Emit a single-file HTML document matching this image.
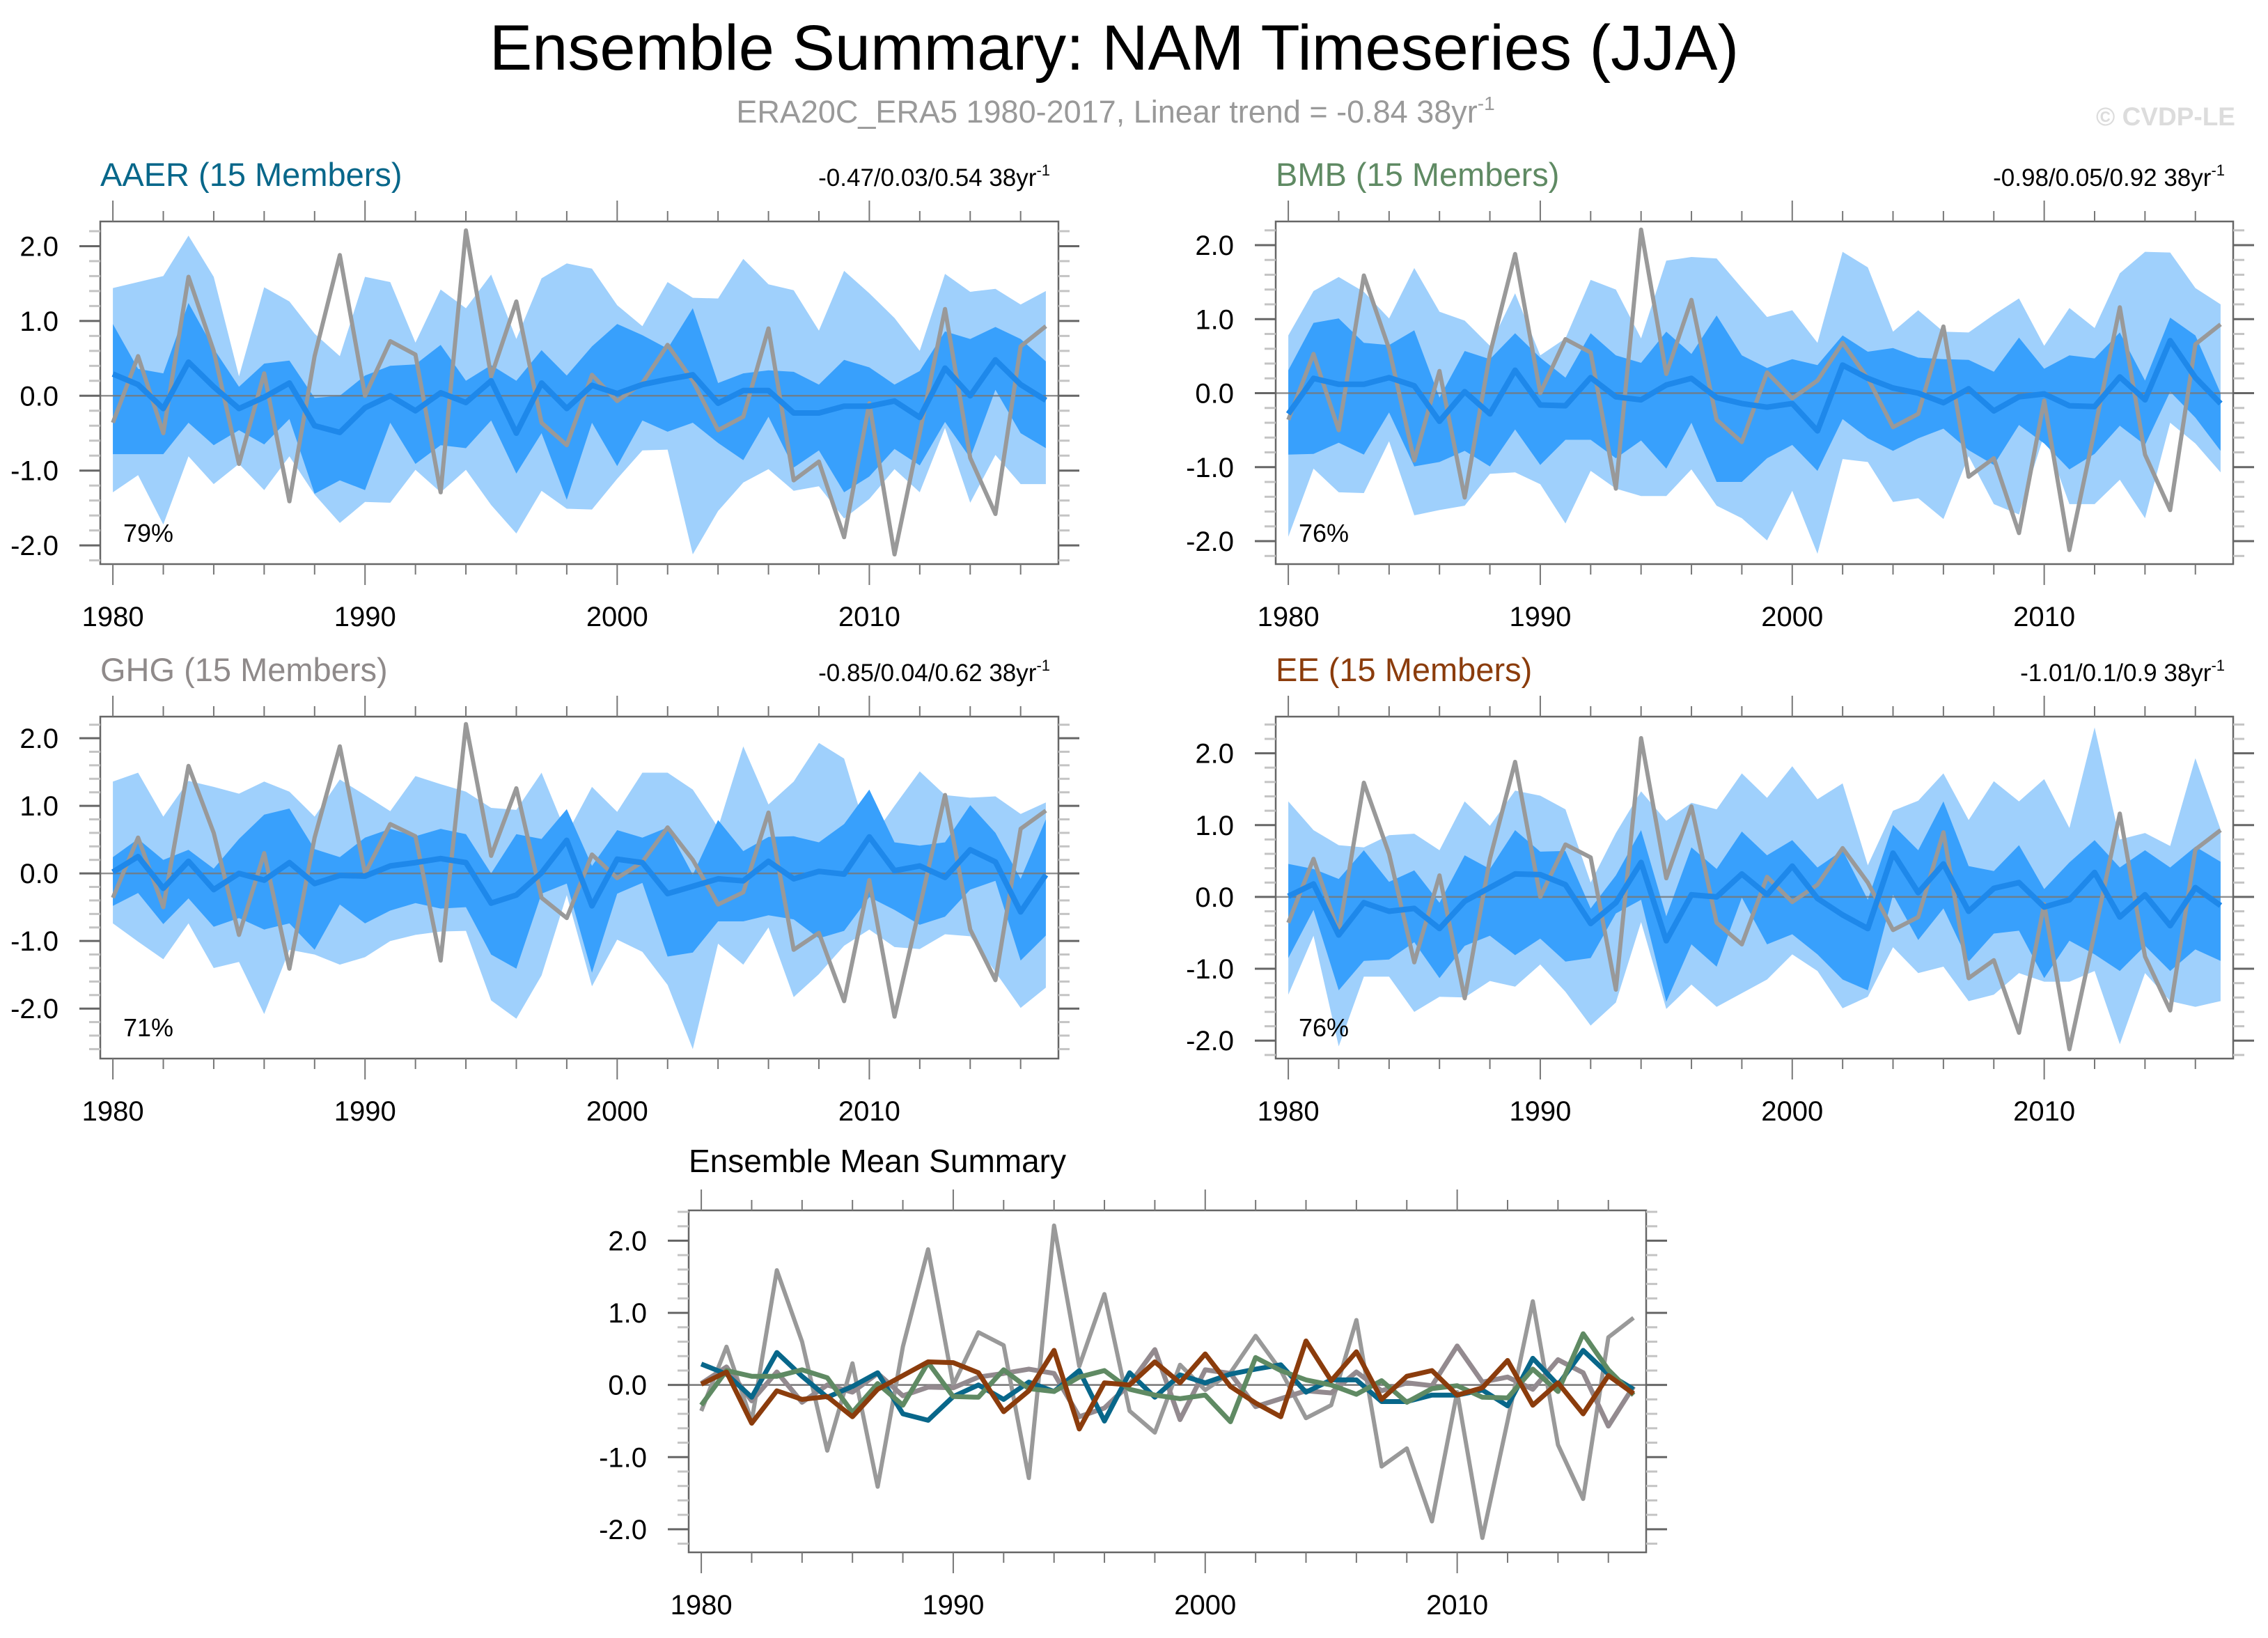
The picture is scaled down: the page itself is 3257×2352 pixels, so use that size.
<!DOCTYPE html>
<html><head><meta charset="utf-8"><title>Ensemble Summary: NAM Timeseries (JJA)</title>
<style>
html,body{margin:0;padding:0;background:#fff;}
svg{display:block;font-family:"Liberation Sans",Arial,sans-serif;}
</style></head>
<body>
<svg id="chart" xmlns="http://www.w3.org/2000/svg" width="3257" height="2352" viewBox="0 0 3257 2352">
<rect x="0" y="0" width="3257" height="2352" fill="#fff"/>
<text x="1600" y="100" font-size="92" text-anchor="middle" fill="#000">Ensemble Summary: NAM Timeseries (JJA)</text>
<text x="1602" y="176" font-size="45" text-anchor="middle" fill="#999">ERA20C_ERA5 1980-2017, Linear trend = -0.84 38yr<tspan dy="-18" font-size="28">-1</tspan></text>
<text x="3210" y="180" font-size="37" font-weight="bold" text-anchor="end" fill="#dcdcdc">© CVDP-LE</text>
<g id="panels"></g>
</svg>
<script>
const years = [1980,1981,1982,1983,1984,1985,1986,1987,1988,1989,1990,1991,1992,1993,1994,1995,1996,1997,1998,1999,2000,2001,2002,2003,2004,2005,2006,2007,2008,2009,2010,2011,2012,2013,2014,2015,2016,2017];
const xTicks = [1980,1990,2000,2010];
const yTicks = [2,1,0,-1,-2];
const yTickLabels = ["2.0","1.0","0.0","-1.0","-2.0"];
const obs = [-0.36,0.53,-0.5,1.59,0.6,-0.91,0.3,-1.41,0.53,1.88,0,0.73,0.55,-1.29,2.21,0.26,1.26,-0.36,-0.66,0.28,-0.07,0.17,0.68,0.2,-0.46,-0.28,0.9,-1.13,-0.88,-1.89,-0.1,-2.12,-0.5,1.16,-0.83,-1.58,0.66,0.93];

const aaerMean = [0.29,0.15,-0.17,0.45,0.12,-0.17,-0.02,0.17,-0.4,-0.49,-0.16,0,-0.2,0.04,-0.09,0.2,-0.5,0.17,-0.17,0.14,0.03,0.15,0.22,0.28,-0.1,0.07,0.07,-0.23,-0.23,-0.14,-0.14,-0.07,-0.29,0.37,0,0.48,0.15,-0.06];
const aaerDarkHi = [0.96,0.36,0.3,1.24,0.63,0.12,0.43,0.47,-0.03,0,0.27,0.4,0.42,0.68,0.2,0.41,0.2,0.61,0.27,0.66,0.96,0.81,0.63,1.17,0.17,0.3,0.34,0.32,0.15,0.48,0.38,0.15,0.33,0.86,0.76,0.92,0.76,0.46];
const aaerDarkLo = [-0.78,-0.78,-0.78,-0.36,-0.66,-0.46,-0.65,-0.31,-1.31,-1.13,-1.26,-0.36,-0.91,-0.66,-0.7,-0.33,-1.04,-0.5,-1.39,-0.36,-0.94,-0.33,-0.48,-0.36,-0.63,-0.86,-0.28,-0.96,-0.73,-1.29,-1.08,-0.71,-0.93,-0.35,-0.83,0.08,-0.5,-0.7];
const aaerLightHi = [1.44,1.52,1.6,2.14,1.59,0.26,1.45,1.26,0.83,0.53,1.59,1.52,0.71,1.42,1.17,1.62,0.76,1.57,1.77,1.7,1.21,0.93,1.52,1.31,1.3,1.83,1.49,1.41,0.87,1.67,1.37,1.04,0.6,1.63,1.39,1.43,1.22,1.4];
const aaerLightLo = [-1.29,-1.06,-1.72,-0.81,-1.18,-0.91,-1.26,-0.81,-1.32,-1.7,-1.42,-1.43,-0.99,-1.29,-0.99,-1.46,-1.84,-1.27,-1.51,-1.52,-1.11,-0.73,-0.72,-2.12,-1.54,-1.16,-0.98,-1.27,-1.21,-1.64,-1.38,-0.98,-1.29,-0.43,-1.43,-0.79,-1.18,-1.18];

const bmbMean = [-0.28,0.2,0.12,0.12,0.21,0.1,-0.38,0.02,-0.28,0.31,-0.16,-0.17,0.21,-0.05,-0.09,0.11,0.2,-0.06,-0.14,-0.19,-0.14,-0.51,0.38,0.2,0.07,0,-0.13,0.06,-0.24,-0.05,-0.01,-0.17,-0.18,0.22,-0.09,0.71,0.21,-0.14];
const bmbDarkHi = [0.31,0.95,1.01,0.68,0.65,0.85,-0.06,0.57,0.46,0.81,0.48,0.21,0.81,0.51,0.41,0.83,0.53,1.05,0.51,0.34,0.46,0.38,0.78,0.56,0.61,0.48,0.46,0.45,0.29,0.75,0.33,0.51,0.47,0.82,0.17,1.02,0.78,0];
const bmbDarkLo = [-0.83,-0.82,-0.67,-0.83,-0.26,-0.99,-0.93,-0.78,-0.99,-0.49,-0.97,-0.63,-0.63,-0.88,-0.64,-1.02,-0.4,-1.2,-1.2,-0.88,-0.7,-1.05,-0.35,-0.61,-0.78,-0.61,-0.48,-0.77,-0.97,-0.43,-0.68,-1.03,-0.82,-0.44,-0.7,0.02,-0.33,-0.78];
const bmbLightHi = [0.78,1.38,1.57,1.37,1.01,1.69,1.1,0.98,0.64,1.35,0.51,0.74,1.53,1.4,0.74,1.79,1.84,1.82,1.42,1.03,1.12,0.68,1.91,1.7,0.83,1.12,0.83,0.82,1.06,1.28,0.64,1.15,0.88,1.62,1.91,1.9,1.42,1.2];
const bmbLightLo = [-1.94,-1.02,-1.34,-1.35,-0.65,-1.65,-1.58,-1.52,-1.09,-1.07,-1.23,-1.76,-1.05,-1.29,-1.39,-1.39,-1.03,-1.52,-1.69,-1.99,-1.32,-2.17,-0.89,-0.93,-1.47,-1.42,-1.7,-0.85,-1.5,-1.64,-0.56,-1.5,-1.5,-1.17,-1.69,-0.4,-0.68,-1.07];

const ghgMean = [0.02,0.25,-0.22,0.18,-0.24,0,-0.1,0.16,-0.15,-0.03,-0.04,0.11,0.16,0.22,0.16,-0.44,-0.32,0.01,0.49,-0.48,0.21,0.16,-0.3,-0.19,-0.08,-0.11,0.18,-0.08,0.03,-0.01,0.54,0.04,0.11,-0.06,0.35,0.17,-0.57,-0.02];
const ghgDarkHi = [0.24,0.51,0.2,0.35,0.07,0.51,0.87,0.96,0.36,0.24,0.53,0.66,0.55,0.66,0.58,0,0.58,0.51,0.95,0.11,0.64,0.53,0.68,-0.02,0.79,0.33,0.54,0.55,0.46,0.73,1.24,0.46,0.41,0.46,1.01,0.6,-0.08,0.8];
const ghgDarkLo = [-0.48,-0.29,-0.75,-0.37,-0.79,-0.66,-0.83,-0.74,-1.13,-0.46,-0.74,-0.55,-0.44,-0.52,-0.5,-1.2,-1.41,-0.3,-0.15,-1.47,-0.3,-0.14,-1.23,-1.17,-0.71,-0.71,-0.62,-0.68,-0.96,-0.85,-0.35,-0.54,-0.76,-0.64,-0.24,-0.11,-1.29,-0.92];
const ghgLightHi = [1.36,1.49,0.84,1.37,1.28,1.18,1.36,1.21,0.84,1.39,1.16,0.92,1.44,1.32,1.21,0.97,0.94,1.49,0.58,1.28,0.91,1.49,1.49,1.24,0.68,1.88,1.02,1.36,1.93,1.7,0.47,1,1.51,1.16,1.12,1.14,0.88,1.05];
const ghgLightLo = [-0.74,-1.01,-1.27,-0.74,-1.4,-1.31,-2.08,-1.13,-1.2,-1.35,-1.24,-1,-0.91,-0.86,-0.85,-1.88,-2.15,-1.51,-0.32,-1.67,-0.98,-1.16,-1.65,-2.6,-1.04,-1.35,-0.8,-1.83,-1.49,-1.07,-0.83,-1.09,-1.12,-0.9,-0.93,-1.46,-1.99,-1.69];

const eeMean = [0.01,0.18,-0.53,-0.08,-0.2,-0.16,-0.44,-0.06,0.13,0.32,0.31,0.17,-0.37,-0.08,0.48,-0.61,0.03,0,0.32,0.03,0.43,-0.02,-0.25,-0.44,0.61,0.06,0.46,-0.2,0.12,0.2,-0.14,-0.04,0.34,-0.28,0.03,-0.4,0.13,-0.12];
const eeDarkHi = [0.46,0.39,0.25,0.65,0.21,0.37,-0.08,0.58,0.39,0.93,0.63,0.64,-0.16,0.3,0.93,-0.27,0.69,0.39,0.91,0.58,0.79,0.41,0.65,-0.04,1.0,0.65,1.33,0.43,0.36,0.72,0.11,0.48,0.79,0.41,0.65,0.41,0.7,0.49];
const eeDarkLo = [-0.85,-0.18,-1.3,-0.89,-0.87,-0.63,-1.13,-0.68,-0.54,-0.81,-0.58,-0.9,-0.85,-0.23,-0.04,-1.46,-0.66,-0.97,-0.01,-0.66,-0.52,-0.8,-1.15,-1.3,0.03,-0.6,-0.16,-0.9,-0.51,-0.47,-1.13,-0.61,-0.8,-1.03,-0.68,-1.03,-0.73,-0.89];
const eeLightHi = [1.33,0.93,0.72,0.69,0.86,0.88,0.65,1.33,0.99,1.48,1.41,1.22,0.2,0.89,1.47,1.06,1.31,1.22,1.72,1.38,1.82,1.36,1.58,0.44,1.2,1.34,1.72,1.07,1.61,1.33,1.64,0.96,2.36,0.8,0.89,0.71,1.93,0.94];
const eeLightLo = [-1.36,-0.54,-2.08,-1.11,-1.11,-1.6,-1.39,-1.4,-1.17,-1.25,-0.94,-1.32,-1.79,-1.47,-0.35,-1.56,-1.22,-1.53,-1.34,-1.15,-0.8,-1.03,-1.55,-1.39,-0.7,-1.06,-0.97,-1.45,-1.36,-1.06,-1.18,-1.18,-1.03,-2.05,-1.06,-1.45,-1.53,-1.45];

const panelTitles = ["AAER (15 Members)","BMB (15 Members)","GHG (15 Members)","EE (15 Members)"];
const trendLabels = ["-0.47/0.03/0.54 38yr","-0.98/0.05/0.92 38yr","-0.85/0.04/0.62 38yr","-1.01/0.1/0.9 38yr"];
const pctLabels = ["79%","76%","71%","76%"];

const NS = "http://www.w3.org/2000/svg";
const root = document.getElementById('panels');
function mk(tag, attrs, parent){
  const e = document.createElementNS(NS, tag);
  for (const k in attrs) e.setAttribute(k, attrs[k]);
  (parent||root).appendChild(e);
  return e;
}
function axes(g, L, T, R, B, ymin, ymax){
  const xs = v => L + (v - (years[0]-0.5)) / ((years[years.length-1]+0.5) - (years[0]-0.5)) * (R - L);
  const ys = v => B - (v - ymin) / (ymax - ymin) * (B - T);
  return {xs, ys};
}
function drawFrame(g, L, T, R, B, xs, ys, ymin, ymax, slug){
  for (let yr = years[0]; yr <= years[years.length-1]; yr += 2){
    const major = (yr % 10 === 0);
    const len = major ? 30 : 15;
    const x = xs(yr);
    const t1 = mk('line', {x1:x, x2:x, y1:T-len, y2:T, stroke:'#777', 'stroke-width':2}, g);
    
    
    const t2 = mk('line', {x1:x, x2:x, y1:B, y2:B+len, stroke:'#777', 'stroke-width':2}, g);
    
    
  }
  for (let k = Math.ceil(ymin*5); k <= Math.floor(ymax*5); k++){
    const v = k/5;
    const major = (k % 5 === 0);
    const len = major ? 30 : 16;
    const y = ys(v);
    const a = mk('line', {x1:L-len, x2:L, y1:y, y2:y, stroke:major?'#666':'#c4c4c4', 'stroke-width':major?3:3}, g);
    
    
    const b = mk('line', {x1:R, x2:R+len, y1:y, y2:y, stroke:major?'#666':'#c4c4c4', 'stroke-width':major?3:3}, g);
    
    
  }
  xTicks.forEach(yr => {
    const t = mk('text', {x:xs(yr), y:B+89, 'font-size':40, 'text-anchor':'middle', fill:'#000'}, g);
    
    
    t.textContent = String(yr);
  });
  yTicks.forEach((v,i) => {
    const t = mk('text', {x:L-60, y:ys(v)+14, 'font-size':40, 'text-anchor':'end', fill:'#000'}, g);
    
    
    t.textContent = yTickLabels[i];
  });
}
function linePath(xs, ys, vals){
  return vals.map((v,i) => (i?'L':'M') + xs(years[i]).toFixed(1) + ' ' + ys(v).toFixed(1)).join(' ');
}
function bandPath(xs, ys, hi, lo){
  let d = hi.map((v,i) => (i?'L':'M') + xs(years[i]).toFixed(1) + ' ' + ys(v).toFixed(1)).join(' ');
  for (let i = lo.length-1; i >= 0; i--) d += ' L' + xs(years[i]).toFixed(1) + ' ' + ys(lo[i]).toFixed(1);
  return d + ' Z';
}

const cfgs = [
  {slug:'aaer', L:144, T:318, R:1520, B:810, ymin:-2.25, ymax:2.33, color:'#08678a', mean:aaerMean, dh:aaerDarkHi, dl:aaerDarkLo, lh:aaerLightHi, ll:aaerLightLo},
  {slug:'bmb', L:1832, T:318, R:3207, B:810, ymin:-2.31, ymax:2.32, color:'#5f8a63', mean:bmbMean, dh:bmbDarkHi, dl:bmbDarkLo, lh:bmbLightHi, ll:bmbLightLo},
  {slug:'ghg', L:144, T:1029, R:1520, B:1520, ymin:-2.74, ymax:2.32, color:'#8f8a8a', mean:ghgMean, dh:ghgDarkHi, dl:ghgDarkLo, lh:ghgLightHi, ll:ghgLightLo},
  {slug:'ee', L:1832, T:1029, R:3207, B:1520, ymin:-2.25, ymax:2.51, color:'#8b3c0c', mean:eeMean, dh:eeDarkHi, dl:eeDarkLo, lh:eeLightHi, ll:eeLightLo}
];

cfgs.forEach((c, idx) => {
  const g = mk('g', {});
  
  
  const {xs, ys} = axes(g, c.L, c.T, c.R, c.B, c.ymin, c.ymax);
  const cp = mk('clipPath', {id:'clip-'+c.slug}, g);
  mk('rect', {x:c.L, y:c.T, width:c.R-c.L, height:c.B-c.T}, cp);
  const inner = mk('g', {'clip-path':'url(#clip-'+c.slug+')'}, g);
  const lb = mk('path', {d:bandPath(xs, ys, c.lh, c.ll), fill:'#9fd0fc', stroke:'none'}, inner);
  
  
  const db = mk('path', {d:bandPath(xs, ys, c.dh, c.dl), fill:'#38a0fc', stroke:'none'}, inner);
  
  
  const z = mk('line', {x1:c.L, x2:c.R, y1:ys(0), y2:ys(0), stroke:'#777', 'stroke-width':2.5, opacity:0.8}, inner);
  
  
  const ol = mk('path', {d:linePath(xs, ys, obs), fill:'none', stroke:'#999', 'stroke-width':6, 'stroke-linejoin':'round'}, inner);
  
  
  const ml = mk('path', {d:linePath(xs, ys, c.mean), fill:'none', stroke:'#1e88ea', 'stroke-width':8, 'stroke-linejoin':'round'}, inner);
  
  
  const fr = mk('rect', {x:c.L, y:c.T, width:c.R-c.L, height:c.B-c.T, fill:'none', stroke:'#666', 'stroke-width':2.5}, g);
  
  
  drawFrame(g, c.L, c.T, c.R, c.B, xs, ys, c.ymin, c.ymax, c.slug);
  const tt = mk('text', {x:c.L, y:c.T-51, 'font-size':47, fill:c.color}, g);
  
  
  tt.textContent = panelTitles[idx];
  const tr = mk('text', {x:c.R-12, y:c.T-51, 'font-size':35, 'text-anchor':'end', fill:'#000'}, g);
  
  
  tr.textContent = trendLabels[idx];
  const sup = mk('tspan', {dy:-15, 'font-size':22}, tr);
  sup.textContent = '-1';
  const pc = mk('text', {x:c.L+33, y:c.B-32, 'font-size':36, fill:'#000'}, g);
  
  
  pc.textContent = pctLabels[idx];
});

(function(){
  const L = 989, T = 1738, R = 2364, B = 2229, ymin = -2.32, ymax = 2.42;
  const g = mk('g', {});
  
  
  const {xs, ys} = axes(g, L, T, R, B, ymin, ymax);
  const cp = mk('clipPath', {id:'clip-summary'}, g);
  mk('rect', {x:L, y:T, width:R-L, height:B-T}, cp);
  const inner = mk('g', {'clip-path':'url(#clip-summary)'}, g);
  const z = mk('line', {x1:L, x2:R, y1:ys(0), y2:ys(0), stroke:'#777', 'stroke-width':2.5}, inner);
  
  
  const ol = mk('path', {d:linePath(xs, ys, obs), fill:'none', stroke:'#999', 'stroke-width':6, 'stroke-linejoin':'round'}, inner);
  
  
  const series = [
    ['ghg', ghgMean, '#938a8f'],
    ['aaer', aaerMean, '#08678a'],
    ['bmb', bmbMean, '#5f8a63'],
    ['ee', eeMean, '#8b3c0c']
  ];
  series.forEach(s => {
    const p = mk('path', {d:linePath(xs, ys, s[1]), fill:'none', stroke:s[2], 'stroke-width':7, 'stroke-linejoin':'round'}, inner);
    
    
  });
  const fr = mk('rect', {x:L, y:T, width:R-L, height:B-T, fill:'none', stroke:'#666', 'stroke-width':2.5}, g);
  
  
  drawFrame(g, L, T, R, B, xs, ys, ymin, ymax, 'summary');
  const tt = mk('text', {x:L, y:1683, 'font-size':46, fill:'#000'}, g);
  
  
  tt.textContent = 'Ensemble Mean Summary';
})();
</script>
</body></html>
